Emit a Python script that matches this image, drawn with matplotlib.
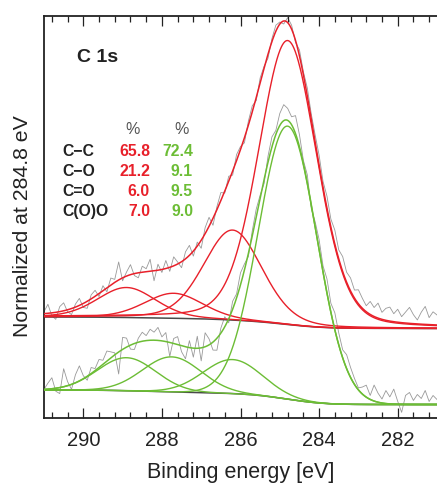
import numpy as np
import matplotlib
matplotlib.use("Agg")
import matplotlib.pyplot as plt
from matplotlib.ticker import MultipleLocator

plt.rcParams['font.family'] = ['Liberation Sans', 'DejaVu Sans']

# ---------------- data ----------------
# fitted components: (C-C, C-O, C=O, C(O)O)
comp_names = ["C\u2212C", "C\u2212O", "C=O", "C(O)O"]
red_pct = ["65.8", "21.2", "6.0", "7.0"]
green_pct = ["72.4", "9.1", "9.5", "9.0"]

red_centers = [284.8, 286.2, 287.7, 288.9]
red_heights = [284, 90, 25, 30]
red_fwhm = 1.75
red_lorentz = 0.2
red_bg_high = 101.0
red_bg_low = 89.5

green_centers = [284.8, 286.2, 287.75, 288.9]
green_heights = [273, 34, 35, 33]
green_fwhm = 1.75
green_lorentz = 0.0
green_bg_high = 28.0
green_bg_low = 13.5

# raw-spectrum deviations from fit, 291.0 -> 281.0 eV step 0.1
red_resid = [2, 9, -3, -7, 5, 8, -2, -6, 3, 7, -4,
             -7, 4, 6, -3, 5, -4, 7, 3, 18, -3,
             4, 10, -2, -5, 6, 3, 12, -10, 6, -3,
             8, -4, 9, 2, -6, 7, 10, -5, 4, -8,
             6, 9, -7, 3, 8, -2, 5, -4, 6, 3,
             -5, 4, 6, -3, 5, 2, -4, 3, 6, 2,
             -3, 5, 4, -2, 6, 3, 8, 5, 7, 10,
             6, 12, 8, 14, 9, 15, 10, 13, 8, 14,
             10, 6, 13, 9, 15, 7, 12, 14, 8, 13,
             6, 11, 16, 9, 4, 12, 18, 7, 13, 10]
green_resid = [0, 6, 11, -3, -6, 18, 4, -5, 8, 15, 3,
               -4, 6, 2, 8, 4, 10, 6, 2, -22, 12,
               9, -4, -6, 4, 9, 5, 11, 8, 13, 4,
               9, -14, 5, 8, -6, -12, 7, -9, 12, -13,
               14, 6, -8, -12, 5, 10, -4, 8, 4, 12,
               6, -3, 5, 8, 3, -4, 6, 10, 4, 12,
               16, 12, 8, 18, 12, 3, 8, -4, 5, 10,
               6, 14, 9, 17, 12, 8, 14, 10, 6, 2,
               7, 12, 4, 16, 9, 4, 13, 7, 15, 3,
               -8, 9, 12, 4, 10, 6, 14, 3, 9, 5]

x_ticks = [290, 288, 286, 284, 282]

RED = '#e8202a'
GREEN = '#6cbd35'
GRAY = '#999999'
BGC = '#4a4a4a'

E = np.linspace(291.0, 281.0, 1001)
E_raw = np.linspace(291.0, 281.0, 101)


def pv(x, c, h, w, m):
    g = np.exp(-4 * np.log(2) * (x - c) ** 2 / w ** 2)
    l = 1.0 / (1 + 4 * (x - c) ** 2 / w ** 2)
    return h * ((1 - m) * g + m * l)


def build(centers, heights, w, m, bhigh, blow):
    comps = [pv(E, c, h, w, m) for c, h in zip(centers, heights)]
    total = np.sum(comps, axis=0)
    cum = np.cumsum(total[::-1])[::-1]
    bg = blow + (bhigh - blow) * cum / cum[0]
    return comps, bg, total + bg


fig = plt.figure(figsize=(4.37, 4.89), dpi=100)
ax = fig.add_axes([44 / 437, 1 - 419 / 489, 1 - 44 / 437, (419 - 17) / 489])

for centers, heights, w, m, bh, bl, resid, col in [
        (red_centers, red_heights, red_fwhm, red_lorentz, red_bg_high, red_bg_low, red_resid, RED),
        (green_centers, green_heights, green_fwhm, green_lorentz, green_bg_high, green_bg_low, green_resid, GREEN)]:
    comps, bg, env = build(centers, heights, w, m, bh, bl)
    raw = np.interp(E_raw[::-1], E[::-1], env[::-1])[::-1] + np.array(resid)
    ax.plot(E_raw, raw, color=GRAY, lw=0.6, zorder=1)
    ax.plot(E, bg, color=BGC, lw=1.1, zorder=2)
    for cp in comps:
        ax.plot(E, cp + bg, color=col, lw=1.0, zorder=3)
    ax.plot(E, env, color=col, lw=1.1, zorder=4)

ax.set_xlim(291, 281)
ax.set_ylim(0, 402)
ax.set_yticks([])
ax.xaxis.set_major_locator(MultipleLocator(2))
ax.xaxis.set_minor_locator(MultipleLocator(0.4))
ax.set_xticks(x_ticks)
ax.tick_params(axis='x', which='both', direction='in', top=True, bottom=True,
               color='#222222', width=0.9)
ax.tick_params(axis='x', which='major', length=7, labelsize=14.5, pad=9,
               labelcolor='#222222')
ax.tick_params(axis='x', which='minor', length=4)
ax.spines['right'].set_visible(False)
for s in ['left', 'top', 'bottom']:
    ax.spines[s].set_linewidth(1.3)
    ax.spines[s].set_color('#222222')

ax.set_xlabel("Binding energy [eV]", fontsize=15.5, color='#222222', labelpad=8)
fig.text(23 / 437, 1 - 226 / 489, "Normalized at 284.8 eV", rotation=90,
         fontsize=15.3, color='#222222', ha='center', va='center')

# annotations (pixel positions converted to figure fraction)
def ftxt(px, py, s, **kw):
    fig.text(px / 437, 1 - py / 489, s, **kw)

ftxt(77, 57, "C 1s", fontsize=14, fontweight='bold', color='#222222', ha='left', va='center')
ftxt(133, 130, "%", fontsize=11.5, color='#555555', ha='center', va='center')
ftxt(182, 130, "%", fontsize=11.5, color='#555555', ha='center', va='center')
row_y = [151, 172, 192, 212]
for name, rp, gp, y in zip(comp_names, red_pct, green_pct, row_y):
    ftxt(62, y, name, fontsize=11.3, fontweight='bold', color='#222222', ha='left', va='center')
    ftxt(150, y, rp, fontsize=11.3, fontweight='bold', color=RED, ha='right', va='center')
    ftxt(193, y, gp, fontsize=11.3, fontweight='bold', color=GREEN, ha='right', va='center')

fig.savefig("out.png", dpi=100, facecolor='white')
